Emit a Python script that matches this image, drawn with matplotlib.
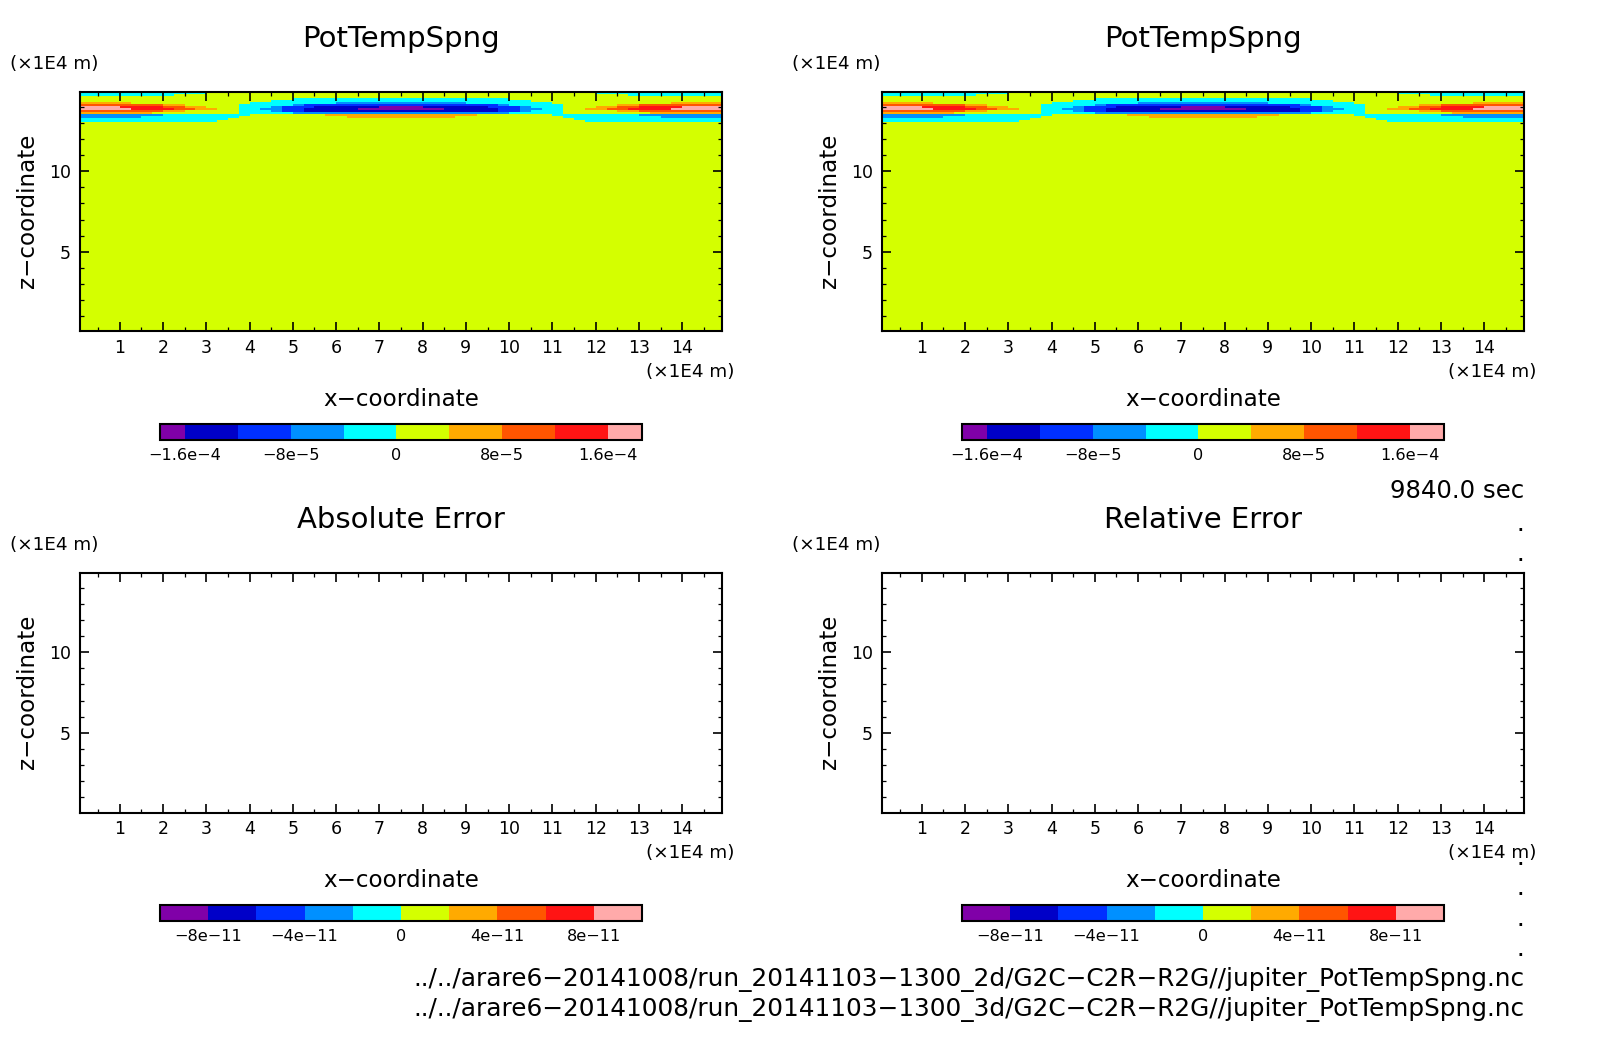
import numpy as np
import matplotlib
matplotlib.use('Agg')
import matplotlib.pyplot as plt
from matplotlib.cm import ScalarMappable
from matplotlib.colors import BoundaryNorm, ListedColormap

W, H = 1604, 1054

# colour band of every cell, top row first; anything below the last row is Y
field_rows = [
    'CCCCCCCCCCCCYYYYYYYYYYYYYYYYYY' 'YYYYYYYYYYYYYYYYYYCCCCCCCCCCCC',
    'CCCCCCCCCYYYYYYYYYYYYYYYYYYYYY' 'YYYYYYYYYYYYYYYYYYYYYCCCCCCCCC',
    'YYYYYYYYYYYYYYYYYYYYYYYYYYYYYY' 'YYYYYYYYYYYYYYYYYYYYYYYYYYYYYY',
    'YYYYYYYYYYYYYYYYYYYYCCCCCCCCCC' 'CCCCCCCCCCYYYYYYYYYYYYYYYYYYYY',
    'YYYYYYYYYYYYYYYYYYCCCCCCCCCCCC' 'CCCCCCCCCCCCYYYYYYYYYYYYYYYYYY',
    'OOOOOYYYYYYYYYYYCCCCCCCCLLLLLL' 'LLLLLLCCCCCCCCYYYYYYYYYYYOOOOO',
    'RRRRRRRROOYYYYYCCCCCLBBBBBBBBB' 'BBBBBBBBBLCCCCCYYYYYOORRRRRRRR',
    'KKKKEEEERROOYYYCCCLBBBDDDDDDPP' 'PPDDDDDDBBBLCCCYYYOORREEEEKKKK',
    'KKKKKEEEERROOYYCCLLBBDDDDDPPPP' 'PPPPDDDDDBBLLCCYYOORREEEEKKKKK',
    'RRRRRRRROOYYYYYCCCLBBDDDDDDDDD' 'DDDDDDDDDBBLCCCYYYYYOORRRRRRRR',
    'OOOOOOOYYYYYYYYCCCCCLLLLLLLLLL' 'LLLLLLLLLLCCCCCYYYYYYYYOOOOOOO',
    'LLLLLLLLCCCCCCCCYYYYYYYOOOOOOO' 'OOOOOOOYYYYYYYCCCCCCCCLLLLLLLL',
    'LLLLLLCCCCCCCCCYYYYYYYYYYOOOOO' 'OOOOOYYYYYYYYYYCCCCCCCCCLLLLLL',
    'CCCCCCCCCCCCCCYYYYYYYYYYYYYYYY' 'YYYYYYYYYYYYYYYYCCCCCCCCCCCCCC',
    'CCCCCCCCCCCCCYYYYYYYYYYYYYYYYY' 'YYYYYYYYYYYYYYYYYCCCCCCCCCCCCC',
    'YYYYYYYYYYYYYYYYYYYYYYYYYYYYYY' 'YYYYYYYYYYYYYYYYYYYYYYYYYYYYYY',
]
band_values = {'P': -1.7e-4, 'D': -1.4e-4, 'B': -1e-4, 'L': -6e-5, 'C': -2e-5,
               'Y': 2e-5, 'O': 6e-5, 'R': 1e-4, 'E': 1.4e-4, 'K': 1.7e-4}

band_colors = ['#8000A8', '#0000C8', '#0030FF', '#0090FF', '#00FFFF',
               '#D4FF00', '#FFAA00', '#FF5500', '#FF1414', '#FFAAAA']
field_levels = [-1.79e-4, -1.6e-4, -1.2e-4, -8e-5, -4e-5, 0, 4e-5, 8e-5, 1.2e-4, 1.6e-4, 1.86e-4]
field_ticks = [-1.6e-4, -8e-5, 0, 8e-5, 1.6e-4]
field_tick_labels = ['\u22121.6e\u22124', '\u22128e\u22125', '0', '8e\u22125', '1.6e\u22124']
error_levels = [-1e-10, -8e-11, -6e-11, -4e-11, -2e-11, 0, 2e-11, 4e-11, 6e-11, 8e-11, 1e-10]
error_ticks = [-8e-11, -4e-11, 0, 4e-11, 8e-11]
error_tick_labels = ['\u22128e\u221211', '\u22124e\u221211', '0', '4e\u221211', '8e\u221211']

x_ticks = list(range(1, 15))
z_ticks = [5, 10]
paths = ['../../arare6\u221220141008/run_20141103\u22121300_2d/G2C\u2212C2R\u2212R2G//jupiter_PotTempSpng.nc',
         '../../arare6\u221220141008/run_20141103\u22121300_3d/G2C\u2212C2R\u2212R2G//jupiter_PotTempSpng.nc']
time_label = '9840.0 sec'
dot_rows = [531, 561, 865, 895, 926, 956]

cmap = ListedColormap(band_colors)
field = np.array([[band_values[c] for c in row] for row in field_rows])
x_edges = np.arange(61) * 0.25
z_edges = np.append(14.92 - 0.124 * np.arange(len(field_rows)), 0)


def px_box(left, top, right, bottom):
    return [left / W, 1 - bottom / H, (right - left) / W, (bottom - top) / H]


def panel(fig, left, top, title, levels, ticks, labels, unit_x, data=None):
    ax = fig.add_axes(px_box(left, top, left + 642, top + 239.5))
    norm = BoundaryNorm(levels, cmap.N)
    if data is not None:
        ax.pcolormesh(x_edges, z_edges, data, cmap=cmap, norm=norm)
    ax.set_xlim(0.083, 14.917)
    ax.set_ylim(0.05, 14.92)
    ax.set_xticks(x_ticks)
    ax.set_xticks(np.arange(0.5, 15, 1), minor=True)
    ax.set_yticks(z_ticks)
    ax.set_yticks(np.arange(1, 15), minor=True)
    ax.tick_params(which='both', direction='in', top=True, right=True, width=1.2)
    ax.tick_params(which='major', length=6.5, labelsize=12.5)
    ax.tick_params(which='minor', length=3.2, width=0.9)
    ax.tick_params(axis='x', which='major', pad=5.5)
    ax.tick_params(axis='y', which='major', pad=6.5)
    for spine in ax.spines.values():
        spine.set_linewidth(1.5)

    ax.set_title(title, fontsize=21, pad=32.5)
    ax.set_xlabel('x\u2212coordinate', fontsize=16.6, va='center')
    ax.xaxis.set_label_coords(0.5, -0.285)
    ax.set_ylabel('z\u2212coordinate', fontsize=16.6, va='center')
    ax.yaxis.set_label_coords(-0.0816, 0.505)
    ax.text(1.02, -0.168, '(\u00d71E4 m)', transform=ax.transAxes, ha='right', va='center', fontsize=13.2)
    ax.text(unit_x, 1.115, '(\u00d71E4 m)', transform=ax.transAxes, ha='left', va='center', fontsize=13.2)

    cax = fig.add_axes(px_box(left + 80, top + 332, left + 562, top + 348))
    cbar = fig.colorbar(ScalarMappable(norm=norm, cmap=cmap), cax=cax, orientation='horizontal',
                        spacing='proportional', ticks=ticks)
    cbar.ax.set_xticklabels(labels)
    cbar.ax.tick_params(length=0, labelsize=11.6, pad=5.5)
    cbar.ax.minorticks_off()
    cbar.outline.set_linewidth(1.5)
    return ax


fig = plt.figure(figsize=(W / 100, H / 100), dpi=100)
panel(fig, 80, 92, 'PotTempSpng', field_levels, field_ticks, field_tick_labels, -0.109, field)
panel(fig, 882, 92, 'PotTempSpng', field_levels, field_ticks, field_tick_labels, -0.14, field)
panel(fig, 80, 573, 'Absolute Error', error_levels, error_ticks, error_tick_labels, -0.109)
panel(fig, 882, 573, 'Relative Error', error_levels, error_ticks, error_tick_labels, -0.14)

fig.text(1524 / W, 1 - 491 / H, time_label, ha='right', va='center', fontsize=17.6)
fig.text(1524 / W, 1 - 979 / H, paths[0], ha='right', va='center', fontsize=17.85)
fig.text(1524 / W, 1 - 1009.5 / H, paths[1], ha='right', va='center', fontsize=17.85)
for y in dot_rows:
    fig.text(1523 / W, 1 - y / H, '.', ha='right', va='baseline', fontsize=11, fontweight='bold')

fig.savefig('out.png', dpi=100)
